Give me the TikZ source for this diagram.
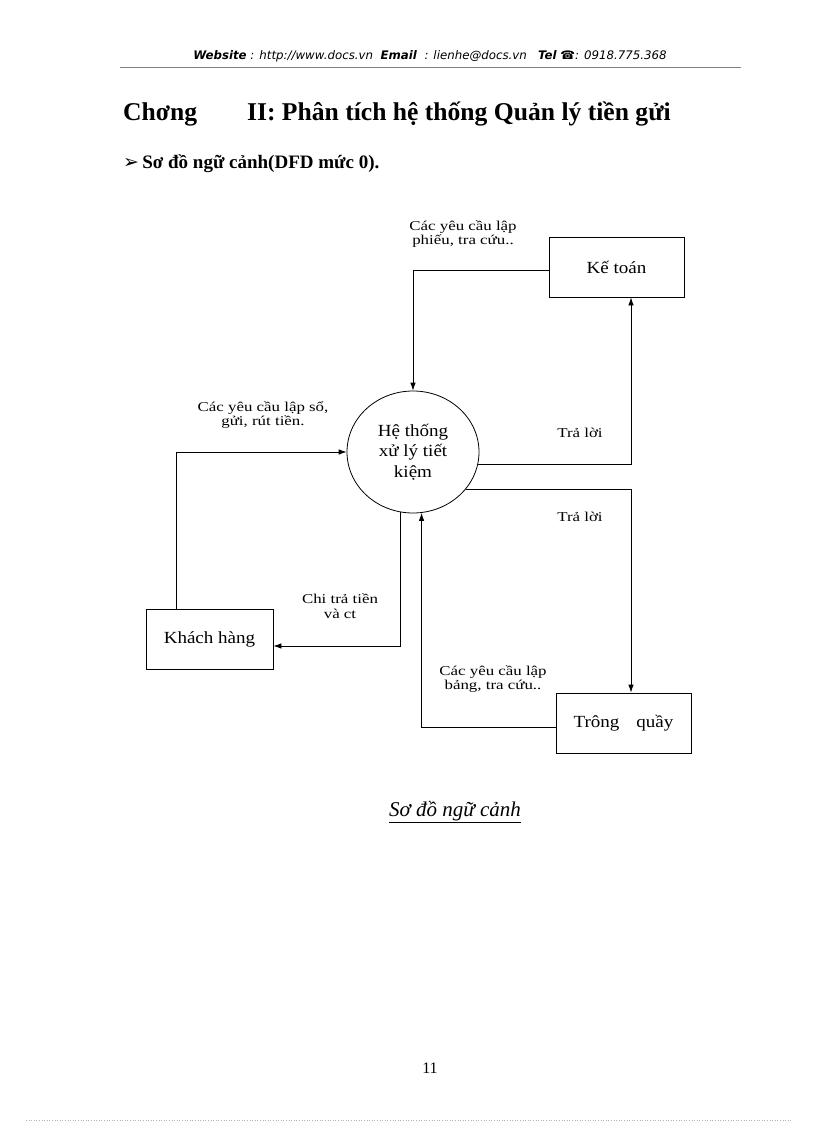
\documentclass[tikz,border=0pt]{standalone}
\usepackage{fontspec}
\setmainfont{Liberation Serif}
\newfontfamily\hdrfont{DejaVu Sans}
\newfontfamily\lblfont[FakeStretch=1.25]{Liberation Serif}
\newfontfamily\entfont[FakeStretch=1.12]{Liberation Serif}
\usetikzlibrary{arrows.meta,shapes.geometric}
\begin{document}
\begin{tikzpicture}[x=1pt,y=-1pt,
  box/.style={draw,line width=0.8pt,minimum width=135pt,minimum height=60pt,inner sep=0pt,font=\entfont\fontsize{17}{19}\selectfont},
  proc/.style={draw,ellipse,line width=0.8pt,minimum width=132pt,minimum height=122pt,inner sep=0pt,align=center,font=\entfont\fontsize{17}{20.5}\selectfont},
  flow/.style={draw,line width=0.8pt,-{Latex[length=8pt,width=5.5pt]}},
  lbl/.style={font=\lblfont\fontsize{13.5}{14.5}\selectfont,align=center,inner sep=0pt}
]
\useasboundingbox[fill=white] (0,0) rectangle (816,1123);

% header
\node[font=\hdrfont\itshape\fontsize{11.8}{14}\selectfont,inner sep=0pt] (hdr) at (430,56)
  {\textbf{Website} : http://www.docs.vn\ \ \textbf{Email}\ \ : lienhe@docs.vn\ \ \ \textbf{Tel}\ ☎: 0918.775.368};
\draw[gray,line width=0.6pt] (120,67) -- (741,67);

% title
\node[anchor=base west,inner sep=0pt,font=\bfseries\fontsize{25.6}{30}\selectfont] (title) at (123,121)
  {Chơng\hspace*{50pt}II: Phân tích hệ thống Quản lý tiền gửi};
\node[anchor=base west,inner sep=0pt,font=\bfseries\fontsize{19}{22}\selectfont] (sub) at (123,169)
  {{\hdrfont\fontsize{19}{22}\selectfont ➢}\,Sơ đồ ngữ cảnh(DFD mức 0).};

% entities
\node[box] (kt) at (616.5,267) {Kế toán};
\node[box,minimum width=127pt] (kh) at (209.5,639) {Khách hàng};
\node[box] (tq) at (623.5,723) {Trông\quad quầy};
\node[proc] (ht) at (413,452) {Hệ thống\\xử lý tiết\\kiệm};

% flows
\draw[flow] ([yshift=-3pt]kt.west) -| (ht.north);
\draw[flow] (ht.-11) -| ([xshift=14.5pt]kt.south);
\draw[flow] (ht.-35) -| ([xshift=7.5pt]tq.north);
\draw[flow] ([xshift=-33.5pt]kh.north) |- (ht.west);
\draw[flow] (ht.-102) |- ([yshift=-7pt]kh.east);
\draw[flow] ([yshift=-4pt]tq.west) -| (ht.-82);

% labels
\node[lbl] (l1) at (463,234) {Các yêu cầu lập\\phiếu, tra cứu..};
\node[lbl] (l2) at (580,433) {Trả lời};
\node[lbl] (l3) at (580,517) {Trả lời};
\node[lbl] (l4) at (263,415) {Các yêu cầu lập sổ,\\gửi, rút tiền.};
\node[lbl] (l5) at (340,606) {Chi trả tiền\\và ct};
\node[lbl] (l6) at (493,679) {Các yêu cầu lập\\bảng, tra cứu..};

% caption
\node[inner sep=0pt,font=\itshape\fontsize{21}{24}\selectfont] (cap) at (455,812) {\underline{Sơ đồ ngữ cảnh}};

% page number
\node[inner sep=0pt,font=\fontsize{16}{18}\selectfont] (pg) at (430,1068) {11};
\draw[gray!60,dotted,line width=0.6pt] (26,1120) -- (791,1120);
\end{tikzpicture}
\end{document}
